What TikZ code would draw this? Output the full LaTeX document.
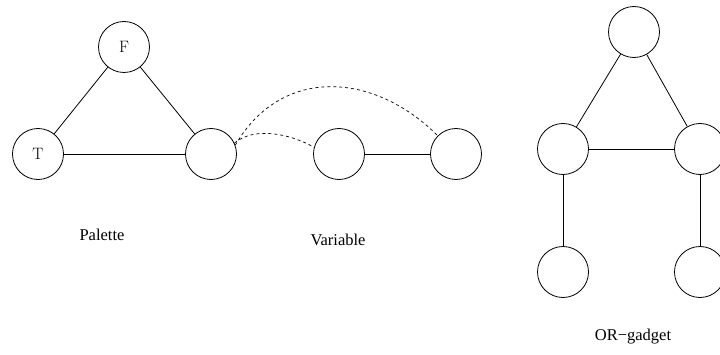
\documentclass[tikz,border=0pt]{standalone}
\usepackage{fontspec}
\usepackage{tikz}
\newfontfamily\captionfont{Liberation Serif}

\tikzset{
  vertex/.style={circle, draw, minimum size=51pt, inner sep=0pt, font=\fontsize{16.5}{19}\selectfont},
  gadgetname/.style={font=\captionfont\fontsize{16.5}{20}\selectfont},
  link/.style={dashed, line width=0.7pt}
}

\begin{document}
\begin{tikzpicture}[x=1pt, y=1pt, line width=0.8pt] % one unit is one pixel of the reference
    % Fix the canvas to the size of the reference
    \useasboundingbox (0,0) rectangle (720,354);

    % Palette triangle
    \node[vertex] (palF) at (124,307) {F};
    \node[vertex] (palT) at (38,200) {T};
    \node[vertex] (palC) at (211,200) {};
    \draw (palF) -- (palT);
    \draw (palF) -- (palC);
    \draw (palT) -- (palC);
    \node[gadgetname] (palName) at (102,119) {Palette};

    % Variable pair
    \node[vertex] (varA) at (339,200) {};
    \node[vertex] (varB) at (456,200) {};
    \draw (varA) -- (varB);
    \node[gadgetname] (varName) at (338,114) {Variable};

    % Dashed links from the palette to the variable
    \draw[link] (palC.20) to[out=60, in=135, looseness=1.15] (varB.135);
    \draw[link] (palC.25) to[out=40, in=150, looseness=0.85] (varA.165);

    % OR-gadget
    \node[vertex] (orTop) at (634,322) {};
    \node[vertex] (orLeft) at (563,205) {};
    \node[vertex] (orRight) at (700,205) {};
    \node[vertex] (orLeftOut) at (563,82) {};
    \node[vertex] (orRightOut) at (700,82) {};
    \draw (orTop) -- (orLeft);
    \draw (orTop) -- (orRight);
    \draw (orLeft) -- (orRight);
    \draw (orLeft) -- (orLeftOut);
    \draw (orRight) -- (orRightOut);
    \node[gadgetname] (orName) at (633,17) {OR−gadget};
\end{tikzpicture}
\end{document}
